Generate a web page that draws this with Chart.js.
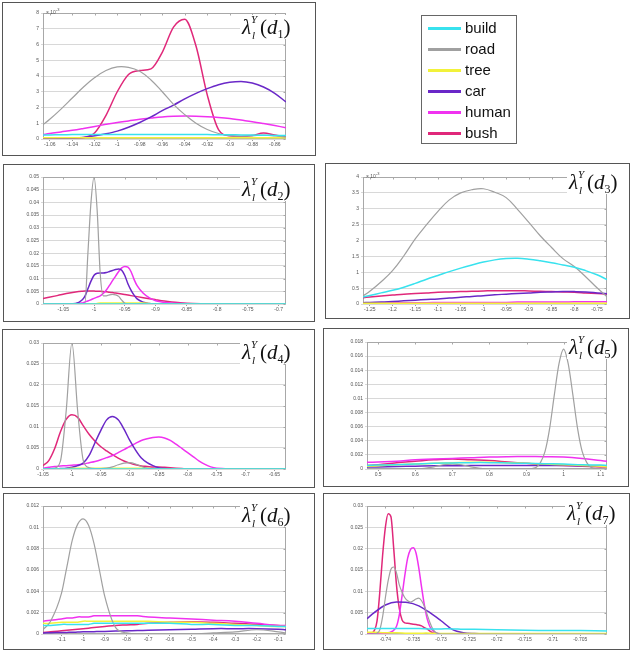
<!DOCTYPE html>
<html>
<head>
<meta charset="utf-8">
<script src="https://cdn.jsdelivr.net/npm/chart.js@4.4.1/dist/chart.umd.min.js"></script>
<style>
  html, body { margin: 0; padding: 0; background: #fff; }
  #stage { position: relative; width: 631px; height: 656px; overflow: hidden; }
  .box { position: absolute; box-sizing: border-box; border: 1px solid #555; background: #fff; }
  .plot { position: absolute; }
  .ttl {
    position: absolute; font-family: 'Liberation Serif', 'DejaVu Serif', serif;
    font-size: 21px; line-height: 24px; background: #fff; padding: 0 2px; white-space: nowrap; color: #111;
  }
  .ttl .ss { display: inline-block; position: relative; width: 9px; height: 24px; vertical-align: top; }
  .ttl .ss i { position: absolute; font-size: 11px; line-height: 11px; }
  .ttl .ss .up { left: 0; top: -1px; }
  .ttl .ss .dn { left: 1px; top: 15px; }
  .ttl sub { font-size: 12px; vertical-align: -4px; line-height: 0; font-style: normal; }
  .exp { position: absolute; font-family: 'Liberation Sans', Arial, sans-serif; font-size: 5px; color: #555; }
  .exp sup { font-size: 4px; }
  #legend { position: absolute; left: 421px; top: 15px; width: 96px; height: 129px; box-sizing: border-box; border: 1px solid #666; background: #fff; }
  #legend .row { position: absolute; left: 0; height: 20px; width: 94px; }
  #legend .sw { position: absolute; left: 6px; top: 9px; width: 33px; height: 3px; }
  #legend .tx { position: absolute; left: 43px; top: 0; font-family: 'Liberation Sans', Arial, sans-serif; font-size: 15px; line-height: 20px; color: #111; }
</style>
</head>
<body>
<div id="stage"></div>
<script>
// Class order used in every panel and in the legend
const classes = ['build', 'road', 'tree', 'car', 'human', 'bush'];
const classColors = ['#38e2ee', '#a0a0a0', '#f2f23a', '#6a28c8', '#f032f0', '#e0287a'];

// ---- d1 (values in units of 1e-3) ----
const d1X = [-1.066, -1.06, -1.05, -1.04, -1.03, -1.02, -1.01, -1.00, -0.99, -0.98, -0.97, -0.96, -0.95, -0.94, -0.93, -0.92, -0.91, -0.90, -0.89, -0.88, -0.87, -0.86, -0.85];
const d1Build = [0.25, 0.26, 0.27, 0.28, 0.28, 0.28, 0.28, 0.28, 0.28, 0.28, 0.28, 0.28, 0.28, 0.28, 0.28, 0.28, 0.27, 0.27, 0.26, 0.25, 0.24, 0.23, 0.22];
const d1Road = [0.9, 1.25, 1.9, 2.6, 3.3, 3.9, 4.35, 4.58, 4.55, 4.3, 3.75, 3.0, 2.2, 1.55, 1.0, 0.6, 0.35, 0.22, 0.18, 0.2, 0.25, 0.2, 0.12];
const d1Tree = [0.08, 0.08, 0.08, 0.08, 0.08, 0.08, 0.08, 0.08, 0.08, 0.08, 0.08, 0.08, 0.08, 0.08, 0.08, 0.08, 0.08, 0.08, 0.08, 0.08, 0.08, 0.08, 0.08];
const d1Car = [0, 0, 0.02, 0.05, 0.1, 0.2, 0.33, 0.5, 0.75, 1.05, 1.4, 1.8, 2.15, 2.55, 2.9, 3.2, 3.45, 3.6, 3.65, 3.55, 3.3, 2.9, 2.35];
const d1Human = [0.27, 0.35, 0.45, 0.55, 0.67, 0.8, 0.93, 1.05, 1.15, 1.25, 1.33, 1.4, 1.44, 1.46, 1.45, 1.42, 1.37, 1.3, 1.2, 1.1, 0.98, 0.85, 0.72];
const d1Bush = [0, 0, 0.02, 0.05, 0.1, 0.4, 1.5, 3.0, 4.1, 4.35, 4.45, 5.5, 7.1, 7.6, 5.9, 2.8, 0.6, 0.2, 0.15, 0.22, 0.38, 0.25, 0.12];

// ---- d2 ----
const d2X = [-1.083, -1.06, -1.04, -1.03, -1.02, -1.015, -1.01, -1.005, -1.0, -0.995, -0.99, -0.985, -0.98, -0.975, -0.97, -0.965, -0.96, -0.955, -0.95, -0.945, -0.94, -0.935, -0.93, -0.92, -0.91, -0.9, -0.89, -0.88, -0.86, -0.84, -0.82, -0.8, -0.75, -0.7, -0.688];
const d2Build = [0, 0, 0, 0, 0, 0, 0, 0, 0, 0, 0, 0, 0, 0, 0, 0, 0, 0, 0, 0, 0, 0, 0, 0, 0, 0, 0, 0, 0, 0, 0, 0, 0, 0, 0];
const d2Road = [0, 0, 0, 0, 0, 0, 0.02, 0.04, 0.05, 0.037, 0.012, 0.0032, 0.0032, 0.0036, 0.0038, 0.0036, 0.003, 0.0015, 0.0003, 0, 0, 0, 0, 0, 0, 0, 0, 0, 0, 0, 0, 0, 0, 0, 0];
const d2Tree = [0, 0, 0, 0, 0, 0, 0, 0, 0, 0.0002, 0.0004, 0.0004, 0.0004, 0.0004, 0.0004, 0.0004, 0.0004, 0.0004, 0.0004, 0.0004, 0.0004, 0.0004, 0.0004, 0.0004, 0.0002, 0, 0, 0, 0, 0, 0, 0, 0, 0, 0];
const d2Car = [0, 0, 0, 0.0002, 0.0015, 0.003, 0.006, 0.009, 0.0113, 0.0121, 0.0122, 0.0122, 0.0124, 0.0128, 0.0132, 0.0136, 0.0138, 0.0133, 0.0112, 0.008, 0.0055, 0.0035, 0.002, 0.0007, 0.0002, 0, 0, 0, 0, 0, 0, 0, 0, 0, 0];
const d2Human = [0, 0, 0, 0.0001, 0.0004, 0.0008, 0.0012, 0.0017, 0.0022, 0.0027, 0.0032, 0.0042, 0.0055, 0.0073, 0.0092, 0.011, 0.0128, 0.0142, 0.0148, 0.0145, 0.0128, 0.0097, 0.0072, 0.0042, 0.0024, 0.0013, 0.0008, 0.0005, 0.0002, 0.0001, 0, 0, 0, 0, 0];
const d2Bush = [0.0022, 0.0033, 0.0043, 0.0047, 0.005, 0.0051, 0.0051, 0.0051, 0.0051, 0.005, 0.005, 0.0049, 0.0048, 0.0046, 0.0045, 0.0043, 0.0041, 0.0039, 0.0037, 0.0035, 0.0033, 0.0031, 0.0029, 0.0025, 0.0021, 0.0017, 0.0013, 0.001, 0.0005, 0.0002, 0.0001, 0, 0, 0, 0];

// ---- d3 (values in units of 1e-3) ----
const d3X = [-1.265, -1.25, -1.225, -1.2, -1.175, -1.15, -1.125, -1.1, -1.075, -1.05, -1.025, -1.0, -0.975, -0.95, -0.925, -0.9, -0.875, -0.85, -0.825, -0.8, -0.775, -0.75, -0.728];
const d3Build = [0.22, 0.27, 0.35, 0.43, 0.53, 0.65, 0.78, 0.9, 1.02, 1.13, 1.23, 1.32, 1.39, 1.43, 1.44, 1.41, 1.36, 1.3, 1.23, 1.16, 1.05, 0.92, 0.77];
const d3Road = [0.25, 0.4, 0.7, 1.05, 1.52, 2.05, 2.5, 2.92, 3.28, 3.5, 3.6, 3.63, 3.52, 3.35, 2.98, 2.57, 2.15, 1.78, 1.43, 1.18, 0.86, 0.51, 0.23];
const d3Tree = [0.02, 0.02, 0.02, 0.02, 0.02, 0.02, 0.02, 0.02, 0.02, 0.02, 0.02, 0.02, 0.02, 0.02, 0.02, 0.02, 0.02, 0.02, 0.02, 0.02, 0.02, 0.02, 0.02];
const d3Car = [0.04, 0.05, 0.06, 0.08, 0.1, 0.12, 0.14, 0.16, 0.19, 0.21, 0.24, 0.26, 0.29, 0.31, 0.33, 0.35, 0.37, 0.38, 0.39, 0.39, 0.38, 0.35, 0.32];
const d3Human = [0.03, 0.03, 0.03, 0.04, 0.04, 0.04, 0.04, 0.05, 0.05, 0.05, 0.05, 0.05, 0.05, 0.05, 0.06, 0.06, 0.06, 0.06, 0.06, 0.07, 0.07, 0.07, 0.07];
const d3Bush = [0.2, 0.22, 0.25, 0.28, 0.31, 0.33, 0.35, 0.37, 0.38, 0.39, 0.4, 0.41, 0.42, 0.42, 0.42, 0.41, 0.4, 0.39, 0.38, 0.37, 0.35, 0.33, 0.31];

// ---- d4 ----
const d4X = [-1.05, -1.04, -1.03, -1.02, -1.01, -1.0, -0.99, -0.98, -0.97, -0.96, -0.95, -0.94, -0.93, -0.92, -0.91, -0.9, -0.89, -0.88, -0.87, -0.86, -0.85, -0.84, -0.83, -0.82, -0.81, -0.8, -0.79, -0.78, -0.77, -0.76, -0.75, -0.7, -0.65, -0.63];
const d4Build = [0, 0, 0, 0, 0, 0, 0, 0, 0, 0, 0, 0, 0, 0, 0, 0, 0, 0, 0, 0, 0, 0, 0, 0, 0, 0, 0, 0, 0, 0, 0, 0, 0, 0];
const d4Road = [0, 0, 0.0002, 0.0018, 0.0137, 0.03, 0.0137, 0.0018, 0.0003, 0.0001, 0.0001, 0.0002, 0.0005, 0.001, 0.0014, 0.0015, 0.0012, 0.0006, 0.0002, 0, 0, 0, 0, 0, 0, 0, 0, 0, 0, 0, 0, 0, 0, 0];
const d4Tree = [0, 0, 0, 0, 0, 0.0002, 0.0002, 0.0002, 0.0002, 0.0002, 0.0002, 0.0002, 0.0002, 0.0002, 0.0002, 0.0002, 0.0002, 0.0002, 0.0002, 0, 0, 0, 0, 0, 0, 0, 0, 0, 0, 0, 0, 0, 0, 0];
const d4Car = [0, 0, 0, 0.0001, 0.0002, 0.0004, 0.0008, 0.0015, 0.0033, 0.0063, 0.0092, 0.0117, 0.0125, 0.0117, 0.0095, 0.0068, 0.0045, 0.0026, 0.0015, 0.0008, 0.0003, 0.0001, 0, 0, 0, 0, 0, 0, 0, 0, 0, 0, 0, 0];
const d4Human = [0.0002, 0.0004, 0.0006, 0.0007, 0.0008, 0.0009, 0.001, 0.0012, 0.0015, 0.0018, 0.0022, 0.0027, 0.0032, 0.0039, 0.0046, 0.0054, 0.0061, 0.0068, 0.0072, 0.0075, 0.0076, 0.0074, 0.0068, 0.0059, 0.0049, 0.0039, 0.0029, 0.0019, 0.0011, 0.0005, 0.0002, 0, 0, 0];
const d4Bush = [0.0008, 0.002, 0.0048, 0.0088, 0.0118, 0.0129, 0.0123, 0.0102, 0.0082, 0.0066, 0.0053, 0.0043, 0.0034, 0.0026, 0.0019, 0.0014, 0.001, 0.0007, 0.0006, 0.0005, 0.0005, 0.0004, 0.0003, 0.0002, 0.0001, 0, 0, 0, 0, 0, 0, 0, 0, 0];

// ---- d5 ----
const d5X = [0.47, 0.5, 0.55, 0.6, 0.65, 0.7, 0.75, 0.8, 0.85, 0.9, 0.95, 1.0, 1.05, 1.1, 1.117];
const d5Build = [0.0005, 0.00055, 0.0006, 0.0007, 0.0008, 0.00085, 0.0009, 0.0009, 0.00085, 0.0008, 0.00075, 0.0007, 0.0006, 0.00055, 0.0005];
const d5Tree = [0.0004, 0.00045, 0.0006, 0.0007, 0.0008, 0.0009, 0.00095, 0.00095, 0.0009, 0.0008, 0.0007, 0.0006, 0.0005, 0.0004, 0.0003];
const d5Car = [0.0003, 0.0003, 0.00035, 0.0004, 0.00045, 0.00045, 0.0005, 0.0005, 0.0005, 0.0005, 0.0005, 0.0005, 0.00045, 0.0004, 0.0004];
const d5Human = [0.00095, 0.001, 0.0011, 0.0013, 0.0014, 0.0015, 0.0016, 0.0017, 0.00175, 0.00177, 0.00175, 0.0017, 0.0015, 0.0012, 0.0011];
const d5Bush = [0.0005, 0.0006, 0.0009, 0.0011, 0.0013, 0.0014, 0.0013, 0.0012, 0.001, 0.0008, 0.0006, 0.0005, 0.0004, 0.0003, 0.0003];
const d5RoadX = [0.47, 0.6, 0.625, 0.65, 0.675, 0.7, 0.725, 0.75, 0.775, 0.8, 0.9, 0.925, 0.9375, 0.95, 0.9625, 0.975, 0.9875, 1.0, 1.0125, 1.025, 1.0375, 1.05, 1.0625, 1.075, 1.1, 1.117];
const d5Road = [0, 0, 0.0001, 0.0003, 0.0006, 0.0007, 0.0006, 0.0003, 0.0001, 0, 0, 0.0002, 0.0009, 0.0025, 0.0058, 0.0105, 0.0149, 0.017, 0.0149, 0.0105, 0.0058, 0.0025, 0.0009, 0.0002, 0, 0];

// ---- d6 ----
const d6X = [-1.185, -1.15, -1.1, -1.075, -1.05, -1.025, -1.0, -0.975, -0.95, -0.925, -0.9, -0.85, -0.8, -0.75, -0.7, -0.6, -0.5, -0.4, -0.3, -0.2, -0.1, -0.065];
const d6Build = [0.0008, 0.0008, 0.0009, 0.0009, 0.0009, 0.0009, 0.0009, 0.0009, 0.001, 0.001, 0.001, 0.001, 0.001, 0.001, 0.001, 0.001, 0.0009, 0.0009, 0.0008, 0.0008, 0.0007, 0.0007];
const d6Road = [0.0004, 0.0012, 0.0038, 0.0063, 0.0088, 0.0103, 0.0108, 0.0102, 0.0085, 0.006, 0.0035, 0.0006, 0.0001, 0, 0, 0, 0, 0.0001, 0.0002, 0.0004, 0.0002, 0.0001];
const d6Tree = [0.001, 0.001, 0.0011, 0.0011, 0.0011, 0.0011, 0.0012, 0.0012, 0.0012, 0.0012, 0.0012, 0.0012, 0.0012, 0.0012, 0.0012, 0.0011, 0.0011, 0.001, 0.0009, 0.0008, 0.0007, 0.0007];
const d6Car = [0.0001, 0.00012, 0.00014, 0.00015, 0.00016, 0.00018, 0.0002, 0.00021, 0.00022, 0.00023, 0.00024, 0.00027, 0.0003, 0.00032, 0.00035, 0.0004, 0.00045, 0.0005, 0.0005, 0.0005, 0.00045, 0.0004];
const d6Human = [0.0012, 0.0013, 0.0014, 0.0015, 0.0015, 0.0016, 0.0016, 0.0016, 0.0017, 0.0017, 0.0017, 0.0017, 0.0017, 0.0017, 0.0016, 0.0015, 0.0014, 0.0013, 0.0012, 0.001, 0.0008, 0.0008];
const d6Bush = [0.00015, 0.0002, 0.0003, 0.00035, 0.0004, 0.00045, 0.0005, 0.00055, 0.0006, 0.00065, 0.0007, 0.0008, 0.00085, 0.0009, 0.001, 0.0011, 0.00115, 0.0011, 0.001, 0.0009, 0.0008, 0.00075];

// ---- d7 ----
const d7X = [-0.7433, -0.743, -0.7425, -0.742, -0.7415, -0.741, -0.7405, -0.74, -0.7395, -0.739, -0.7385, -0.738, -0.7375, -0.737, -0.7365, -0.736, -0.7355, -0.735, -0.7345, -0.734, -0.7335, -0.733, -0.7325, -0.732, -0.7315, -0.731, -0.7305, -0.73, -0.725, -0.715, -0.705, -0.6997];
const d7Road = [0, 0, 0, 0, 0.0002, 0.001, 0.004, 0.0085, 0.0125, 0.0152, 0.0157, 0.0143, 0.0115, 0.0098, 0.0085, 0.0078, 0.0075, 0.0078, 0.0082, 0.0084, 0.0078, 0.0065, 0.0046, 0.0027, 0.0012, 0.0004, 0.0001, 0, 0, 0, 0, 0];
const d7Human = [0, 0, 0, 0, 0, 0, 0.0001, 0.0002, 0.0003, 0.0005, 0.0009, 0.0018, 0.0045, 0.009, 0.0138, 0.0178, 0.0198, 0.0202, 0.019, 0.0155, 0.011, 0.0068, 0.0036, 0.0017, 0.0008, 0.0003, 0.0001, 0, 0, 0, 0, 0];
const d7Bush = [0, 0, 0.0001, 0.0008, 0.003, 0.0098, 0.0184, 0.025, 0.0282, 0.0275, 0.02, 0.0114, 0.006, 0.0033, 0.0026, 0.0025, 0.0024, 0.0023, 0.0022, 0.0021, 0.0019, 0.0015, 0.0012, 0.0007, 0.0003, 0.0001, 0, 0, 0, 0, 0, 0];
const d7XWide = [-0.7433, -0.742, -0.74, -0.738, -0.736, -0.734, -0.732, -0.73, -0.728, -0.726, -0.724, -0.72, -0.715, -0.71, -0.705, -0.6997];
const d7Build = [0.0013, 0.0013, 0.0013, 0.0013, 0.0013, 0.0013, 0.0012, 0.0012, 0.0012, 0.0011, 0.0011, 0.001, 0.0009, 0.0008, 0.0008, 0.0007];
const d7Tree = [0.0004, 0.0004, 0.0003, 0.0003, 0.0002, 0.0002, 0.0002, 0.0001, 0.0001, 0.0001, 0.0001, 0.0001, 0.0001, 0.0001, 0.0001, 0.0001];
const d7Car = [0.0036, 0.005, 0.0068, 0.0075, 0.0074, 0.0066, 0.005, 0.0031, 0.0011, 0.0003, 0.0001, 0, 0, 0, 0, 0];

// Panel definitions: frame box, plot area, axis ranges [min, max, step], title spot
const panels = [
  { sub: '1', box: [2, 2, 314, 154], plot: [43, 12, 286, 139], x: [-1.066, -0.85, 0.02], y: [0, 8, 1], exp: [46, 7], title: [240, 15],
    series: [[d1X, d1Build], [d1X, d1Road], [d1X, d1Tree], [d1X, d1Car], [d1X, d1Human], [d1X, d1Bush]] },
  { sub: '2', box: [3, 164, 312, 158], plot: [43, 176, 286, 304], x: [-1.083, -0.688, 0.05], y: [0, 0.05, 0.005], title: [240, 177],
    series: [[d2X, d2Build], [d2X, d2Road], [d2X, d2Tree], [d2X, d2Car], [d2X, d2Human], [d2X, d2Bush]] },
  { sub: '3', box: [325, 163, 305, 156], plot: [363, 176, 607, 304], x: [-1.265, -0.728, 0.05], y: [0, 4, 0.5], exp: [366, 171], title: [567, 170],
    series: [[d3X, d3Build], [d3X, d3Road], [d3X, d3Tree], [d3X, d3Car], [d3X, d3Human], [d3X, d3Bush]] },
  { sub: '4', box: [2, 329, 313, 159], plot: [43, 342, 286, 469], x: [-1.05, -0.63, 0.05], y: [0, 0.03, 0.005], title: [240, 340],
    series: [[d4X, d4Build], [d4X, d4Road], [d4X, d4Tree], [d4X, d4Car], [d4X, d4Human], [d4X, d4Bush]] },
  { sub: '5', box: [323, 328, 306, 159], plot: [367, 341, 607, 469], x: [0.47, 1.117, 0.1], y: [0, 0.018, 0.002], title: [567, 335],
    series: [[d5X, d5Build], [d5RoadX, d5Road], [d5X, d5Tree], [d5X, d5Car], [d5X, d5Human], [d5X, d5Bush]] },
  { sub: '6', box: [3, 493, 312, 157], plot: [43, 505, 286, 634], x: [-1.185, -0.065, 0.1], y: [0, 0.012, 0.002], title: [240, 503],
    series: [[d6X, d6Build], [d6X, d6Road], [d6X, d6Tree], [d6X, d6Car], [d6X, d6Human], [d6X, d6Bush]] },
  { sub: '7', box: [323, 493, 307, 157], plot: [367, 505, 607, 634], x: [-0.7433, -0.7002, 0.005], y: [0, 0.03, 0.005], title: [565, 501],
    series: [[d7XWide, d7Build], [d7X, d7Road], [d7XWide, d7Tree], [d7XWide, d7Car], [d7X, d7Human], [d7X, d7Bush]] }
];

const Y_AXIS_W = 30, X_AXIS_H = 12, PAD_T = 4, PAD_R = 4;
const tickFont = { size: 5, family: "'Liberation Sans', Arial, sans-serif" };
const fmt = v => String(parseFloat(Number(v).toFixed(5)));

// Axis frame with small inward ticks on the top and right edges
const framePlugin = {
  id: 'frame',
  beforeDatasetsDraw(chart) {
    const { ctx, chartArea: a, scales } = chart;
    ctx.save();
    ctx.strokeStyle = '#a8a8a8';
    ctx.lineWidth = 1;
    const l = Math.round(a.left) + 0.5, t = Math.round(a.top) + 0.5;
    const r = Math.round(a.right) - 0.5, b = Math.round(a.bottom) - 0.5;
    ctx.strokeRect(l, t, r - l, b - t);
    ctx.beginPath();
    scales.x.ticks.forEach(tk => {
      const px = Math.round(scales.x.getPixelForValue(tk.value)) + 0.5;
      ctx.moveTo(px, t); ctx.lineTo(px, t + 2);
    });
    scales.y.ticks.forEach(tk => {
      const py = Math.round(scales.y.getPixelForValue(tk.value)) + 0.5;
      ctx.moveTo(r, py); ctx.lineTo(r - 2, py);
    });
    ctx.stroke();
    ctx.restore();
  }
};

const stage = document.getElementById('stage');

panels.forEach(p => {
  const box = document.createElement('div');
  box.className = 'box';
  Object.assign(box.style, { left: p.box[0] + 'px', top: p.box[1] + 'px', width: p.box[2] + 'px', height: p.box[3] + 'px' });
  stage.appendChild(box);

  const [pl, pt, pr, pb] = p.plot;
  const wrap = document.createElement('div');
  wrap.className = 'plot';
  Object.assign(wrap.style, {
    left: (pl - Y_AXIS_W) + 'px', top: (pt - PAD_T) + 'px',
    width: (pr - pl + Y_AXIS_W + PAD_R) + 'px', height: (pb - pt + PAD_T + X_AXIS_H) + 'px'
  });
  const cv = document.createElement('canvas');
  wrap.appendChild(cv);
  stage.appendChild(wrap);

  // Curves that sit on zero for a stretch keep monotone interpolation (no dips below the axis);
  // the rest use a smooth Bezier.
  const datasets = p.series.map(([xs, ys], i) => {
    const hasZeroRun = ys.filter(v => v === 0).length >= 2;
    return {
      label: classes[i],
      data: xs.map((x, k) => ({ x, y: ys[k] })),
      borderColor: classColors[i],
      borderWidth: classes[i] === 'road' ? 1.2 : 1.5,
      pointRadius: 0,
      fill: false,
      cubicInterpolationMode: hasZeroRun ? 'monotone' : 'default',
      tension: hasZeroRun ? 0 : 0.4
    };
  });

  new Chart(cv, {
    type: 'line',
    data: { datasets },
    options: {
      responsive: true, maintainAspectRatio: false, animation: false, events: [],
      layout: { autoPadding: false, padding: { left: 0, right: PAD_R, top: PAD_T, bottom: 0 } },
      plugins: { legend: { display: false }, tooltip: { enabled: false } },
      scales: {
        x: {
          type: 'linear', min: p.x[0], max: p.x[1],
          ticks: { stepSize: p.x[2], includeBounds: false, autoSkip: false, maxRotation: 0, font: tickFont, color: '#555', padding: 1, callback: fmt },
          grid: { drawOnChartArea: false, drawTicks: true, tickLength: 2, color: '#999' },
          border: { display: false },
          afterFit: s => { s.height = X_AXIS_H; }
        },
        y: {
          type: 'linear', min: p.y[0], max: p.y[1],
          ticks: { stepSize: p.y[2], includeBounds: false, autoSkip: false, font: tickFont, color: '#555', padding: 2, callback: fmt },
          grid: { color: '#d8d8d8', drawTicks: true, tickLength: 2 },
          border: { display: false },
          afterFit: s => { s.width = Y_AXIS_W; }
        }
      }
    },
    plugins: [framePlugin]
  });

  if (p.exp) {
    const e = document.createElement('div');
    e.className = 'exp';
    e.style.left = p.exp[0] + 'px';
    e.style.top = p.exp[1] + 'px';
    e.innerHTML = '&times; 10<sup>-3</sup>';
    stage.appendChild(e);
  }

  const t = document.createElement('div');
  t.className = 'ttl';
  t.style.left = p.title[0] + 'px';
  t.style.top = p.title[1] + 'px';
  t.innerHTML = '<i>λ</i><span class="ss"><i class="up">Y</i><i class="dn">l</i></span>(<i>d</i><sub>' + p.sub + '</sub>)';
  stage.appendChild(t);
});

// Legend
const legend = document.createElement('div');
legend.id = 'legend';
classes.forEach((name, i) => {
  const row = document.createElement('div');
  row.className = 'row';
  row.style.top = (2 + i * 21) + 'px';
  row.innerHTML = '<div class="sw" style="background:' + classColors[i] + '"></div><div class="tx">' + name + '</div>';
  legend.appendChild(row);
});
stage.appendChild(legend);
</script>
</body>
</html>
